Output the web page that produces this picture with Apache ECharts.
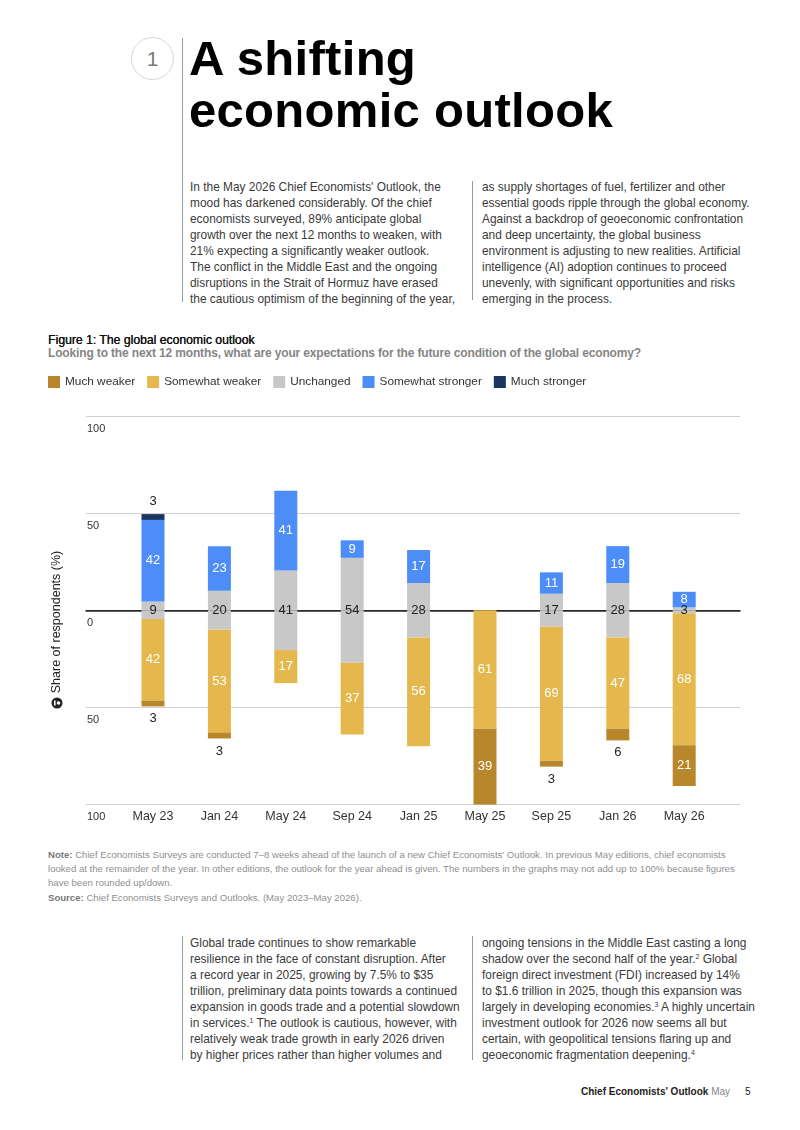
<!DOCTYPE html>
<html>
<head>
<meta charset="utf-8">
<script src="https://cdn.jsdelivr.net/npm/echarts@6/dist/echarts.min.js"></script>
<style>
  html, body { margin:0; padding:0; background:#fff; }
  body { width:800px; height:1130px; position:relative; overflow:hidden; font-family:"Liberation Sans", Arial, Helvetica, sans-serif; color:#333; }
  .abs { position:absolute; }
  .vline { position:absolute; width:1px; background:#9a9a9a; }
  .title { left:189px; top:32px; font-size:49px; line-height:52px; font-weight:bold; color:#000; letter-spacing:0.3px; white-space:nowrap; }
  .num { left:131px; top:37px; width:41px; height:41px; border:1px solid #d8d8d8; border-radius:50%; text-align:center; line-height:41px; font-size:21px; color:#7a7a7a; }
  .body { font-size:11.9px; line-height:16px; color:#3a3a3a; white-space:nowrap; }
  .figt { left:48px; top:333px; font-size:12.2px; font-weight:normal; text-shadow:0.35px 0 0 #111; color:#111; white-space:nowrap; }
  .figs { left:48px; top:346px; font-size:12px; font-weight:bold; color:#858585; white-space:nowrap; letter-spacing:-0.15px; }
  .note { left:48px; top:848px; font-size:9.6px; line-height:14px; color:#8f8f8f; white-space:nowrap; }
  .note b { color:#7a7a7a; }
  .footer { top:1086px; font-size:10px; white-space:nowrap; color:#222; }
  sup { font-size:7px; line-height:0; vertical-align:4px; }
</style>
</head>
<body>
<div class="abs num">1</div>
<div class="vline" style="left:182px; top:38px; height:264px;"></div>
<div class="abs title">A shifting<br>economic outlook</div>

<div class="abs body" style="left:190px; top:179px;">In the May 2026 Chief Economists' Outlook, the<br>mood has darkened considerably. Of the chief<br>economists surveyed, 89% anticipate global<br>growth over the next 12 months to weaken, with<br>21% expecting a significantly weaker outlook.<br>The conflict in the Middle East and the ongoing<br>disruptions in the Strait of Hormuz have erased<br>the cautious optimism of the beginning of the year,</div>
<div class="vline" style="left:472px; top:181px; height:119px;"></div>
<div class="abs body" style="left:482px; top:179px;">as supply shortages of fuel, fertilizer and other<br>essential goods ripple through the global economy.<br>Against a backdrop of geoeconomic confrontation<br>and deep uncertainty, the global business<br>environment is adjusting to new realities. Artificial<br>intelligence (AI) adoption continues to proceed<br>unevenly, with significant opportunities and risks<br>emerging in the process.</div>

<div class="abs figt">Figure 1: The global economic outlook</div>
<div class="abs figs">Looking to the next 12 months, what are your expectations for the future condition of the global economy?</div>

<div id="chart" class="abs" style="left:0; top:370px; width:800px; height:470px;"></div>

<div class="abs note"><b>Note:</b> Chief Economists Surveys are conducted 7–8 weeks ahead of the launch of a new Chief Economists' Outlook. In previous May editions, chief economists<br>looked at the remainder of the year. In other editions, the outlook for the year ahead is given. The numbers in the graphs may not add up to 100% because figures<br>have been rounded up/down.</div>
<div class="abs note" style="top:891px;"><b>Source:</b> Chief Economists Surveys and Outlooks. (May 2023–May 2026).</div>

<div class="vline" style="left:182px; top:936px; height:124px;"></div>
<div class="abs body" style="left:190px; top:935px;">Global trade continues to show remarkable<br>resilience in the face of constant disruption. After<br>a record year in 2025, growing by 7.5% to $35<br>trillion, preliminary data points towards a continued<br>expansion in goods trade and a potential slowdown<br>in services.<sup>1</sup> The outlook is cautious, however, with<br>relatively weak trade growth in early 2026 driven<br>by higher prices rather than higher volumes and</div>
<div class="vline" style="left:472px; top:936px; height:124px;"></div>
<div class="abs body" style="left:482px; top:935px;">ongoing tensions in the Middle East casting a long<br>shadow over the second half of the year.<sup>2</sup> Global<br>foreign direct investment (FDI) increased by 14%<br>to $1.6 trillion in 2025, though this expansion was<br>largely in developing economies.<sup>3</sup> A highly uncertain<br>investment outlook for 2026 now seems all but<br>certain, with geopolitical tensions flaring up and<br>geoeconomic fragmentation deepening.<sup>4</sup></div>

<div class="abs footer" style="left:581px;"><b>Chief Economists' Outlook</b> <span style="color:#888;">May</span></div>
<div class="abs footer" style="left:745px;">5</div>

<script>
// ---- data ----
const categories = ['May 23','Jan 24','May 24','Sep 24','Jan 25','May 25','Sep 25','Jan 26','May 26'];
const muchWeaker       = [3, 3, 0, 0, 0, 39, 3, 6, 21];
const somewhatWeaker   = [42, 53, 17, 37, 56, 61, 69, 47, 68];
const unchanged        = [9, 20, 41, 54, 28, 0, 17, 28, 3];
const somewhatStronger = [42, 23, 41, 9, 17, 0, 11, 19, 8];
const muchStronger     = [3, 0, 0, 0, 0, 0, 0, 0, 0];
const seriesNames = ['Much weaker','Somewhat weaker','Unchanged','Somewhat stronger','Much stronger'];

// ---- style ----
const C = { mw:'#B8862B', sw:'#E5B84E', un:'#C8C8C8', ss:'#4D8DF7', ms:'#1C355E' };
const FONT = '"Liberation Sans", Arial, Helvetica, sans-serif';
const lbl = { fontFamily: FONT, fontSize: 13 };
const BW = 23;

const chart = echarts.init(document.getElementById('chart'), null, { renderer: 'canvas' });

function fmt(src) { return p => (src[p.dataIndex] ? String(src[p.dataIndex]) : ''); }

const bar = (name, data, color, label) => ({
  name, type: 'bar', stack: 'total', barWidth: BW, data,
  xAxisIndex: 1, yAxisIndex: 1,
  itemStyle: { color }, label, z: 3,
  emphasis: { disabled: true }
});

const mwData = muchWeaker.map(v => ({
  value: -v,
  label: v >= 10
    ? { show: true, position: 'inside', color: '#fff' }
    : { show: true, position: 'bottom', distance: 6, color: '#222' }
}));
const msData = muchStronger.map(v => ({
  value: v,
  label: v >= 10
    ? { show: true, position: 'inside', color: '#fff' }
    : { show: true, position: 'top', distance: 6, color: '#222' }
}));

const TOP = 46, BOTTOM = 35.5;
const option = {
  animation: false,
  textStyle: { fontFamily: FONT },
  legend: {
    data: seriesNames, left: 48, top: 6, padding: 0, itemWidth: 12, itemHeight: 12, itemGap: 12,
    icon: 'rect', selectedMode: false,
    textStyle: { fontFamily: FONT, fontSize: 11.8, color: '#333' }
  },
  grid: [
    { left: 86, right: 60, top: TOP, bottom: BOTTOM },          // frame: gridlines, y labels, zero line
    { left: 119.8, right: 82.6, top: TOP, bottom: BOTTOM }      // bars: 9 category bands
  ],
  xAxis: [
    {
      gridIndex: 0, type: 'value', min: 0, max: 1,
      axisLine: { show: true, onZero: true, lineStyle: { color: '#2a2a2a', width: 1.6 } },
      axisTick: { show: false }, axisLabel: { show: false }, splitLine: { show: false }
    },
    {
      gridIndex: 1, type: 'category', data: categories,
      axisLine: { show: false, onZero: false }, axisTick: { show: false }, splitLine: { show: false },
      axisLabel: { margin: 6, fontSize: 12.5, color: '#333', fontFamily: FONT, interval: 0 }
    }
  ],
  yAxis: [
    {
      gridIndex: 0, type: 'value', min: -100, max: 100, interval: 50,
      axisLine: { show: false }, axisTick: { show: false },
      splitLine: { show: true, lineStyle: { color: ['#cfcfd4', '#cfcfd4', '#2a2a2a', '#cfcfd4', '#cfcfd4'], width: 1 } },
      axisLabel: {
        inside: true, margin: 1, align: 'left', verticalAlign: 'top', padding: [6, 0, 0, 0], lineHeight: 13,
        fontSize: 11, color: '#333', fontFamily: FONT,
        formatter: v => String(Math.abs(v))
      }
    },
    {
      gridIndex: 1, type: 'value', min: -100, max: 100, interval: 50, show: false,
      splitLine: { show: false }
    }
  ],
  graphic: [
    {
      type: 'text', x: 57, y: 252, rotation: Math.PI / 2,
      style: { text: 'Share of respondents (%)', font: '12.5px ' + FONT, fill: '#222', align: 'center', verticalAlign: 'middle' }
    },
    { type: 'circle', shape: { cx: 57, cy: 333, r: 5.5 }, style: { fill: '#222' } },
    { type: 'circle', shape: { cx: 58.5, cy: 333, r: 1.8 }, style: { fill: '#fff' } },
    { type: 'rect', shape: { x: 54, y: 330.5, width: 1.6, height: 5 }, style: { fill: '#fff' } }
  ],
  series: [
    bar('Unchanged', unchanged.map(v => v / 2), C.un,
      { show: true, position: 'insideBottom', distance: 0, verticalAlign: 'middle', color: '#222', formatter: fmt(unchanged), ...lbl }),
    bar('Unchanged', unchanged.map(v => -v / 2), C.un, { show: false }),
    bar('Somewhat weaker', somewhatWeaker.map(v => -v), C.sw,
      { show: true, position: 'inside', color: '#fff', formatter: fmt(somewhatWeaker), ...lbl }),
    bar('Much weaker', mwData, C.mw, { formatter: fmt(muchWeaker), ...lbl }),
    bar('Somewhat stronger', somewhatStronger, C.ss,
      { show: true, position: 'inside', color: '#fff', formatter: fmt(somewhatStronger), ...lbl }),
    bar('Much stronger', msData, C.ms, { formatter: fmt(muchStronger), ...lbl })
  ]
};
chart.setOption(option);
</script>
</body>
</html>
